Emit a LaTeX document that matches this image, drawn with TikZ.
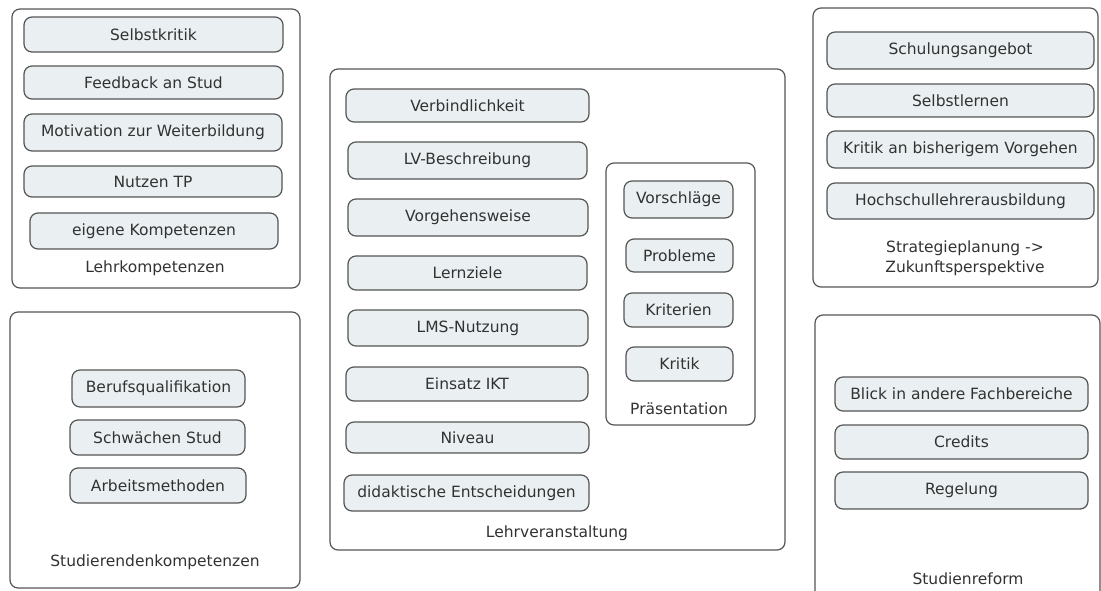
\documentclass[tikz,border=0pt]{standalone}
\usepackage{fontspec}
\setmainfont{DejaVu Sans}
\definecolor{itemfill}{RGB}{234,240,242}
\definecolor{edge}{RGB}{85,85,85}
\definecolor{ink}{RGB}{50,50,50}
\begin{document}
\begin{tikzpicture}[x=1pt,y=-1pt,
  every node/.style={font=\fontsize{15.5}{18}\selectfont, text=ink},
  group/.style={draw=edge, line width=1.2pt, rounded corners=8pt, inner sep=0pt},
  item/.style={draw=edge, fill=itemfill, line width=1.2pt, rounded corners=8pt, inner sep=0pt},
  caption/.style={align=center, inner sep=0pt}]
\useasboundingbox (0,0) rectangle (1101,590);
\clip (0,0) rectangle (1101,590);

% Lehrkompetenzen
\node[group, minimum width=288, minimum height=279] (lk) at (156,148.5) {};
\node[item, minimum width=259, minimum height=35] (lk1) at (153.5,34.5) {Selbstkritik};
\node[item, minimum width=259, minimum height=33] (lk2) at (153.5,82.5) {Feedback an Stud};
\node[item, minimum width=258, minimum height=37] (lk3) at (153,132.5) {Motivation zur Weiterbildung};
\node[item, minimum width=258, minimum height=31] (lk4) at (153,181.5) {Nutzen TP};
\node[item, minimum width=248, minimum height=36] (lk5) at (154,231) {eigene Kompetenzen};
\node[caption] (lkl) at (155,268) {Lehrkompetenzen};

% Studierendenkompetenzen
\node[group, minimum width=290, minimum height=276] (sk) at (155,450) {};
\node[item, minimum width=173, minimum height=37] (sk1) at (158.5,388.5) {Berufsqualifikation};
\node[item, minimum width=175, minimum height=35] (sk2) at (157.5,437.5) {Schwächen Stud};
\node[item, minimum width=176, minimum height=35] (sk3) at (158,485.5) {Arbeitsmethoden};
\node[caption] (skl) at (155,562) {Studierendenkompetenzen};

% Lehrveranstaltung
\node[group, minimum width=455, minimum height=481] (lv) at (557.5,309.5) {};
\node[item, minimum width=243, minimum height=33] (lv1) at (467.5,105.5) {Verbindlichkeit};
\node[item, minimum width=239, minimum height=37] (lv2) at (467.5,160.5) {LV-Beschreibung};
\node[item, minimum width=240, minimum height=37] (lv3) at (468,217.5) {Vorgehensweise};
\node[item, minimum width=239, minimum height=34] (lv4) at (467.5,273) {Lernziele};
\node[item, minimum width=240, minimum height=36] (lv5) at (468,328) {LMS-Nutzung};
\node[item, minimum width=242, minimum height=34] (lv6) at (467,384) {Einsatz IKT};
\node[item, minimum width=243, minimum height=31] (lv7) at (467.5,437.5) {Niveau};
\node[item, minimum width=245, minimum height=36] (lv8) at (466.5,493) {didaktische Entscheidungen};
\node[caption] (lvl) at (557,533) {Lehrveranstaltung};

% Präsentation
\node[group, minimum width=149, minimum height=262] (pr) at (680.5,294) {};
\node[item, minimum width=109, minimum height=37] (pr1) at (678.5,199.5) {Vorschläge};
\node[item, minimum width=107, minimum height=33] (pr2) at (679.5,255.5) {Probleme};
\node[item, minimum width=109, minimum height=34] (pr3) at (678.5,310) {Kriterien};
\node[item, minimum width=107, minimum height=34] (pr4) at (679.5,364) {Kritik};
\node[caption] (prl) at (679,409) {Präsentation};

% Strategieplanung
\node[group, minimum width=285, minimum height=279] (sp) at (955.5,147.5) {};
\node[item, minimum width=267, minimum height=37] (sp1) at (960.5,50.5) {Schulungsangebot};
\node[item, minimum width=267, minimum height=33] (sp2) at (960.5,100.5) {Selbstlernen};
\node[item, minimum width=267, minimum height=37] (sp3) at (960.5,149.5) {Kritik an bisherigem Vorgehen};
\node[item, minimum width=267, minimum height=36] (sp4) at (960.5,201) {Hochschullehrerausbildung};
\node[caption, font=\fontsize{15.5}{20}\selectfont] (spl) at (965,258) {Strategieplanung ->\\Zukunftsperspektive};

% Studienreform
\node[group, minimum width=285, minimum height=300] (sr) at (957.5,465) {};
\node[item, minimum width=253, minimum height=34] (sr1) at (961.5,394) {Blick in andere Fachbereiche};
\node[item, minimum width=253, minimum height=34] (sr2) at (961.5,442) {Credits};
\node[item, minimum width=253, minimum height=37] (sr3) at (961.5,490.5) {Regelung};
\node[caption] (srl) at (968,579) {Studienreform};
\end{tikzpicture}
\end{document}
